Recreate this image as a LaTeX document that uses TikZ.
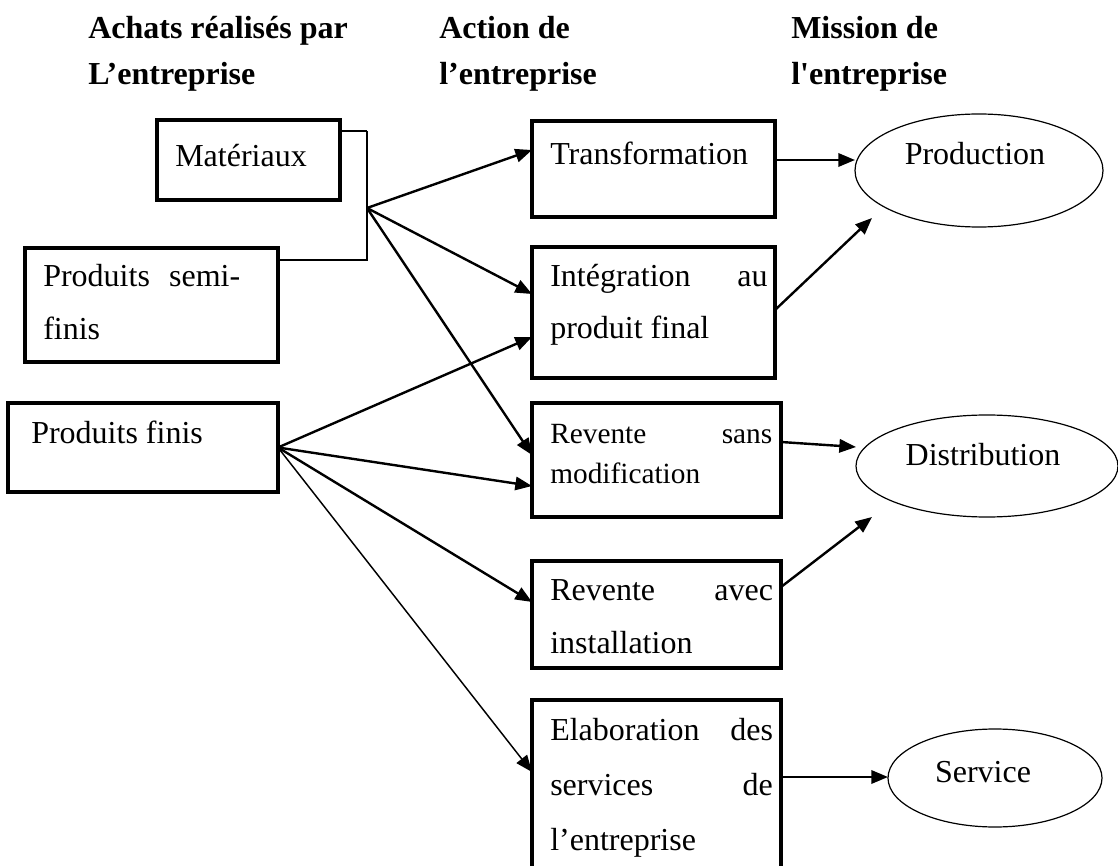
\documentclass[tikz,border=0pt]{standalone}
\usepackage{fontspec}
\newfontfamily\tnr{Liberation Serif}
\usetikzlibrary{arrows.meta,shapes.geometric}
\begin{document}
\begin{tikzpicture}[x=0.75pt,y=-0.75pt,
  box/.style={draw, line width=2.3pt, inner sep=0pt, outer sep=0pt, anchor=north west},
  oval/.style={draw, ellipse, line width=0.9pt, inner sep=0pt, outer sep=0pt},
  txt/.style={anchor=base west, inner sep=0pt, font=\tnr\fontsize{24}{28}\selectfont},
  smalltxt/.style={txt, font=\tnr\fontsize{22}{26}\selectfont},
  head/.style={txt, font=\tnr\bfseries\fontsize{24}{28}\selectfont},
  arr/.style={line width=1.8pt, -{Triangle[length=12.5pt,width=10pt]}},
  thinarr/.style={arr, line width=1.1pt},
]
\useasboundingbox (0,0) rectangle (1118,866);
\clip (0,0) rectangle (1118,866);

% column headings
\node[head] (h1a) at (88,39) {Achats réalisés par};
\node[head] (h1b) at (88,85) {L’entreprise};
\node[head] (h2a) at (439,39) {Action de};
\node[head] (h2b) at (439,85) {l’entreprise};
\node[head] (h3a) at (791,39) {Mission de};
\node[head] (h3b) at (791,85) {l'entreprise};

% purchases
\node[box, minimum width=137.25pt, minimum height=60pt] (mat) at (157,120) {};
\node[box, minimum width=189.75pt, minimum height=85.5pt] (semi) at (25,248) {};
\node[box, minimum width=202.5pt, minimum height=66.75pt] (pf) at (8,403) {};
\node[txt] (matT) at (175,167) {Matériaux};
\node[txt] (semiT1) at (43,287) {\hbox to 147.75pt{Produits\hfill semi-}};
\node[txt] (semiT2) at (43,340) {finis};
\node[txt] (pfT) at (31,443) {Produits finis};

% actions
\node[box, minimum width=182.25pt, minimum height=72pt] (trans) at (532,121) {};
\node[box, minimum width=182.25pt, minimum height=98.25pt] (integ) at (532,247) {};
\node[box, minimum width=186.75pt, minimum height=85.5pt] (rsans) at (532,403) {};
\node[box, minimum width=186.75pt, minimum height=80.25pt] (ravec) at (532,561) {};
\node[box, minimum width=186.75pt, minimum height=150pt] (elab) at (532,700) {};
\node[txt] (transT) at (550,165) {Transformation};
\node[txt] (integT1) at (550,287) {\hbox to 163pt{Intégration\hfill au}};
\node[txt] (integT2) at (550,339) {produit final};
\node[smalltxt] (rsansT1) at (550,443) {\hbox to 166.5pt{Revente\hfill sans}};
\node[smalltxt] (rsansT2) at (550,483) {modification};
\node[txt] (ravecT1) at (550,600) {\hbox to 167pt{Revente\hfill avec}};
\node[txt] (ravecT2) at (550,653) {installation};
\node[txt] (elabT1) at (550,740) {\hbox to 167pt{Elaboration\hfill des}};
\node[txt] (elabT2) at (550,795) {\hbox to 167pt{services\hfill de}};
\node[txt] (elabT3) at (550,850) {l’entreprise};

% missions
\node[oval, minimum width=186pt, minimum height=84.75pt] (prod) at (979,170.5) {};
\node[oval, minimum width=196.5pt, minimum height=76.5pt] (dist) at (987,466) {};
\node[oval, minimum width=160.5pt, minimum height=73.5pt] (serv) at (995,778) {};
\node[txt, anchor=base] (prodT) at (975,165) {Production};
\node[txt, anchor=base] (distT) at (983,465) {Distribution};
\node[txt, anchor=base] (servT) at (983,782) {Service};

% bracket joining the two first purchases
\coordinate (bt) at (367,131);
\coordinate (bb) at (367,260);
\coordinate (hub) at (367,208);
\draw[line width=0.8pt] (mat.east |- bt) -- (bt);
\draw[line width=2pt] (bt) -- (bb) -- (semi.east |- bb);

% purchases -> actions
\draw[arr] (hub) -- (trans.west |- 0,150);
\draw[arr] (hub) -- (integ.west |- 0,294);
\draw[arr] (hub) -- (rsans.west |- 0,455);
\draw[arr] (pf.east) -- (integ.west |- 0,337);
\draw[arr] (pf.east) -- (rsans.west |- 0,486);
\draw[arr] (pf.east) -- (ravec.west |- 0,602);
\draw[thinarr] (pf.east) -- (elab.west |- 0,772);

% actions -> missions
\coordinate (prodIn) at (872,218);
\coordinate (distIn) at (872,517);
\draw[arr] (trans.east |- 0,160) -- (prod.west |- 0,160);
\draw[arr] (integ.east |- 0,310) -- (prodIn);
\draw[arr] (rsans.east |- 0,442) -- (dist.west |- 0,447);
\draw[arr] (ravec.east |- 0,587) -- (distIn);
\draw[arr] (elab.east |- 0,777) -- (serv.west |- 0,777);
\end{tikzpicture}
\end{document}
